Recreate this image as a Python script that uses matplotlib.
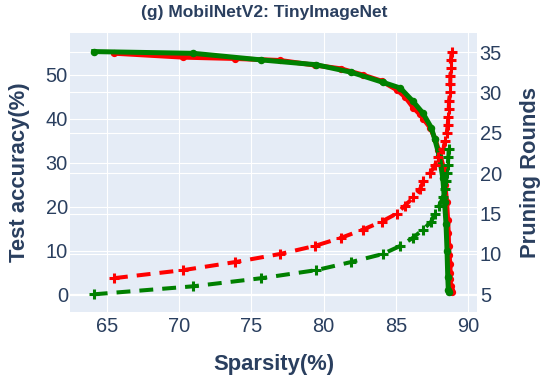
import matplotlib.pyplot as plt
from matplotlib.transforms import blended_transform_factory

# Red method: sparsity / test accuracy / pruning round
red_sparsity = [65.5, 70.3, 73.9, 77.0, 79.4, 81.2, 82.7, 84.0, 85.05, 85.63,
                86.2, 86.66, 86.89, 87.36, 87.7, 87.93, 88.28, 88.39, 88.51, 88.58,
                88.62, 88.65, 88.67, 88.74, 88.75, 88.76, 88.78, 88.8, 88.85]
red_accuracy = [54.9, 54.0, 53.7, 53.3, 52.2, 51.4, 50.0, 48.6, 46.6, 45.0,
                42.5, 41.0, 40.0, 38.0, 35.5, 33.0, 29.0, 25.0, 21.0, 17.0,
                14.0, 11.0, 9.0, 7.0, 5.0, 3.5, 2.0, 1.0, 0.5]
red_rounds = list(range(7, 36))

# Green method
green_sparsity = [64.1, 71.0, 75.7, 79.5, 81.9, 84.1, 85.3, 86.17, 86.86, 87.44,
                  87.67, 88.0, 88.24, 88.36, 88.46, 88.53, 88.58, 88.62, 88.65]
green_accuracy = [55.3, 54.9, 53.4, 52.3, 50.6, 48.3, 47.0, 44.0, 41.3, 38.0,
                  35.5, 31.5, 26.5, 21.0, 16.0, 10.0, 4.0, 1.0, 0.5]
green_rounds = list(range(5, 24))

x_ticks = [65, 70, 75, 80, 85, 90]
acc_ticks = [0, 10, 20, 30, 40, 50]
round_ticks = [5, 10, 15, 20, 25, 30, 35]

txt = '#2a3f5f'
plt.rcParams['font.family'] = ['Liberation Sans', 'DejaVu Sans']
plt.rcParams['lines.scale_dashes'] = False

fig = plt.figure(figsize=(5.48, 3.85), dpi=100)
ax = fig.add_axes([0.1277, 0.1904, 0.7427, 0.7247])
ax.set_facecolor('#E5ECF6')
ax2 = ax.twinx()

ax.set_xlim(62.46, 90.6)
ax.set_ylim(-3.9, 59.6)
ax2.set_ylim(2.85, 37.4)

# grids (both y axes draw their own lines, under the traces)
for v in x_ticks:
    ax.axvline(v, color='white', lw=0.8, zorder=0)
for v in acc_ticks:
    ax.axhline(v, color='white', lw=1.6 if v == 0 else 0.8, zorder=0)
tr = blended_transform_factory(ax.transAxes, ax2.transData)
for v in round_ticks:
    ax.plot([0, 1], [v, v], color='white', lw=0.8, transform=tr, zorder=0)

# accuracy curves
ax.plot(red_sparsity, red_accuracy, color='red', lw=3.4, marker='o', ms=4.2, zorder=2)
ax.plot(green_sparsity, green_accuracy, color='green', lw=3.6, marker='o', ms=4.4, zorder=3)

# pruning rounds curves
ax2.plot(red_sparsity, red_rounds, color='red', lw=2.9, dashes=(10, 6.5),
         marker='+', ms=7, mew=2.2)
ax2.plot(green_sparsity, green_rounds, color='green', lw=2.9, dashes=(10, 6.5),
         marker='+', ms=7, mew=2.2)

for a in (ax, ax2):
    for s in a.spines.values():
        s.set_visible(False)
    a.tick_params(length=0, labelsize=14.4, labelcolor=txt)
ax.tick_params(axis='y', pad=1.5)
ax2.tick_params(axis='y', pad=2)
ax.tick_params(axis='x', pad=4)
ax.set_xticks(x_ticks)
ax.set_yticks(acc_ticks)
ax2.set_yticks(round_ticks)

ax.set_xlabel('Sparsity(%)', fontsize=15.8, fontweight='bold', color=txt, labelpad=13)
ax.set_ylabel('Test accuracy(%)', fontsize=15.8, fontweight='bold', color=txt, labelpad=11)
ax2.set_ylabel('Pruning Rounds', fontsize=15.8, fontweight='bold', color=txt, labelpad=13)
fig.suptitle('(g) MobilNetV2: TinyImageNet', fontsize=12.5, fontweight='bold',
             color=txt, x=0.483, y=0.988, va='top')

fig.savefig('out.png', dpi=100)
